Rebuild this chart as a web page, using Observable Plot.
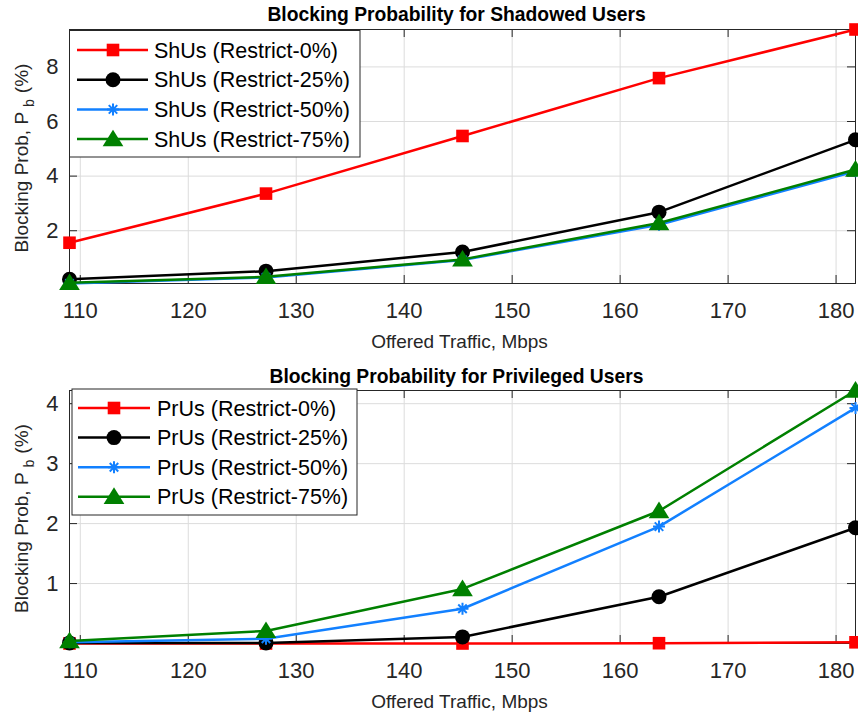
<!DOCTYPE html>
<html><head><meta charset="utf-8">
<script src="https://cdn.jsdelivr.net/npm/d3@7"></script>
<script src="https://cdn.jsdelivr.net/npm/@observablehq/plot@0.6"></script>
<style>
body{margin:0;background:#fff;}
#c{width:858px;}
#c svg{display:block;}
</style>
</head><body><div id="c"></div>
<script>
// ---- data ----
const traffic = [109, 127.2, 145.4, 163.6, 181.8];
const restrictLevels = ["Restrict-0%", "Restrict-25%", "Restrict-50%", "Restrict-75%"];
const shUs0  = [1.56, 3.36, 5.47, 7.59, 9.37];
const shUs25 = [0.22, 0.52, 1.22, 2.68, 5.33];
const shUs50 = [0.07, 0.29, 0.93, 2.22, 4.18];
const shUs75 = [0.09, 0.31, 0.95, 2.28, 4.24];
const prUs0  = [0.00, 0.00, 0.00, 0.005, 0.02];
const prUs25 = [0.01, 0.01, 0.11, 0.78, 1.93];
const prUs50 = [0.02, 0.08, 0.58, 1.95, 3.93];
const prUs75 = [0.04, 0.21, 0.91, 2.21, 4.22];
const xTicks = [110, 120, 130, 140, 150, 160, 170, 180];
const yTicksTop = [2, 4, 6, 8];
const yTicksBottom = [1, 2, 3, 4];

const colors = ["#FF0000", "#000000", "#1280FF", "#008000"];
const FONT = '"Liberation Sans", Arial, Helvetica, sans-serif';
const W = 858, ML = 69, MR = 3;

const sym = {
  square: {draw(ctx, s){const h=Math.sqrt(s/Math.PI); ctx.rect(-h,-h,2*h,2*h);}},
  circle: {draw(ctx, s){const h=Math.sqrt(s/Math.PI); ctx.moveTo(h,0); ctx.arc(0,0,h,0,2*Math.PI);}},
  asterisk: {draw(ctx, s){const h=Math.sqrt(s/Math.PI), d=h*Math.SQRT1_2;
    ctx.moveTo(-h,0);ctx.lineTo(h,0);ctx.moveTo(0,-h);ctx.lineTo(0,h);
    ctx.moveTo(-d,-d);ctx.lineTo(d,d);ctx.moveTo(-d,d);ctx.lineTo(d,-d);}},
  triangle: {draw(ctx, s){const h=Math.sqrt(s/Math.PI);
    ctx.moveTo(0,-1.05*h);ctx.lineTo(1.15*h,0.8*h);ctx.lineTo(-1.15*h,0.8*h);ctx.closePath();}}
};
const symbols = [sym.square, sym.circle, sym.asterisk, sym.triangle];
const radii = [6.3, 7.5, 6, 9];
const filled = [true, true, false, true];

function makeChart(o) {
  const {title, prefix, series, yDomain, yTicks, height, marginTop, marginBottom, legend, yLabelCenterDy} = o;
  const innerH = height - marginTop - marginBottom;
  const innerW = W - ML - MR;
  const marks = [
    Plot.gridX(xTicks, {stroke: "#dcdcdc", strokeOpacity: 1}),
    Plot.gridY(yTicks, {stroke: "#dcdcdc", strokeOpacity: 1}),
    Plot.tickX(xTicks, {x: d => d, insetTop: innerH - 8, stroke: "#262626"}),
    Plot.tickX(xTicks, {x: d => d, insetBottom: innerH - 8, stroke: "#262626"}),
    Plot.tickY(yTicks, {y: d => d, insetRight: innerW - 8, stroke: "#262626"}),
    Plot.tickY(yTicks, {y: d => d, insetLeft: innerW - 8, stroke: "#262626"}),
    Plot.frame({stroke: "#262626"}),
    Plot.axisX(xTicks, {tickSize: 0, tickPadding: 19, fontSize: 22, label: null, tickFormat: d => String(d)}),
    Plot.axisY(yTicks, {tickSize: 0, tickPadding: 11, fontSize: 22, label: null, tickFormat: d => String(d)}),
    Plot.text([title], {text: d => d, frameAnchor: "top", lineAnchor: "middle", dy: o.titleDy, dx: -6,
      fontSize: 19.3, fontWeight: "bold", fill: "black"}),
    Plot.text(["Offered Traffic, Mbps"], {text: d => d, frameAnchor: "bottom", lineAnchor: "middle", dy: 58, dx: -3, fontSize: 19})
  ];
  series.forEach((vals, i) => {
    const rows = vals.map((v, j) => ({x: traffic[j], y: v}));
    marks.push(Plot.line(rows, {x: "x", y: "y", stroke: colors[i], strokeWidth: 2.5}));
    marks.push(Plot.dot(rows, {x: "x", y: "y", symbol: symbols[i], r: radii[i],
      fill: filled[i] ? colors[i] : "none", stroke: colors[i], strokeWidth: filled[i] ? 0 : 2}));
  });
  const svg = Plot.plot({
    width: W, height, marginLeft: ML, marginRight: MR, marginTop, marginBottom,
    style: {fontFamily: FONT, color: "#262626", background: "white", overflow: "visible"},
    x: {domain: [109, 181.8]},
    y: {domain: yDomain},
    marks
  });
  // y label with subscript
  const t = d3.select(svg).append("text")
    .attr("transform", `translate(28,${marginTop + innerH / 2 + yLabelCenterDy}) rotate(-90)`)
    .attr("text-anchor", "middle").attr("font-family", FONT).attr("font-size", 19).attr("fill", "#262626");
  t.append("tspan").text("Blocking Prob, P");
  t.append("tspan").attr("font-size", 14).attr("dx", 5).attr("dy", 6).text("b");
  t.append("tspan").attr("dx", 6).attr("dy", -6).text("(%)");
  // legend
  const g = d3.select(svg).append("g").attr("font-family", FONT).attr("font-size", 21.5).attr("text-anchor", "start");
  g.append("rect").attr("x", legend.x).attr("y", legend.y).attr("width", legend.w).attr("height", legend.h)
    .attr("fill", "white").attr("stroke", "#262626");
  restrictLevels.forEach((lab, i) => {
    const cy = legend.y + legend.first + i * legend.step;
    g.append("line").attr("x1", legend.x + legend.l1).attr("x2", legend.x + legend.l2)
      .attr("y1", cy).attr("y2", cy).attr("stroke", colors[i]).attr("stroke-width", 2.5);
    g.append("path").attr("d", d3.symbol(symbols[i], Math.PI * radii[i] ** 2)())
      .attr("transform", `translate(${legend.x + legend.m},${cy})`)
      .attr("fill", filled[i] ? colors[i] : "none").attr("stroke", colors[i]).attr("stroke-width", filled[i] ? 0 : 2);
    g.append("text").attr("x", legend.x + legend.tx).attr("y", cy).attr("dy", "0.35em")
      .attr("fill", "#000").text(`${prefix} (${lab})`);
  });
  return svg;
}

const c = document.getElementById("c");
c.append(makeChart({
  title: "Blocking Probability for Shadowed Users", prefix: "ShUs",
  series: [shUs0, shUs25, shUs50, shUs75],
  yDomain: [0.067, 9.37], yTicks: yTicksTop,
  height: 358, marginTop: 29, marginBottom: 75, titleDy: -15, yLabelCenterDy: 2,
  legend: {x: 69.5, y: 30.5, w: 290.5, h: 126.5, first: 19.5, step: 29.7, l1: 7.5, l2: 78.5, m: 43.5, tx: 84.5}
}));
c.append(makeChart({
  title: "Blocking Probability for Privileged Users", prefix: "PrUs",
  series: [prUs0, prUs25, prUs50, prUs75],
  yDomain: [0, 4.22], yTicks: yTicksBottom,
  height: 359, marginTop: 32, marginBottom: 74, titleDy: -14, yLabelCenterDy: 2,
  legend: {x: 72, y: 31, w: 285, h: 126, first: 19, step: 29.6, l1: 6, l2: 78, m: 42, tx: 85}
}));
</script>
</body></html>
